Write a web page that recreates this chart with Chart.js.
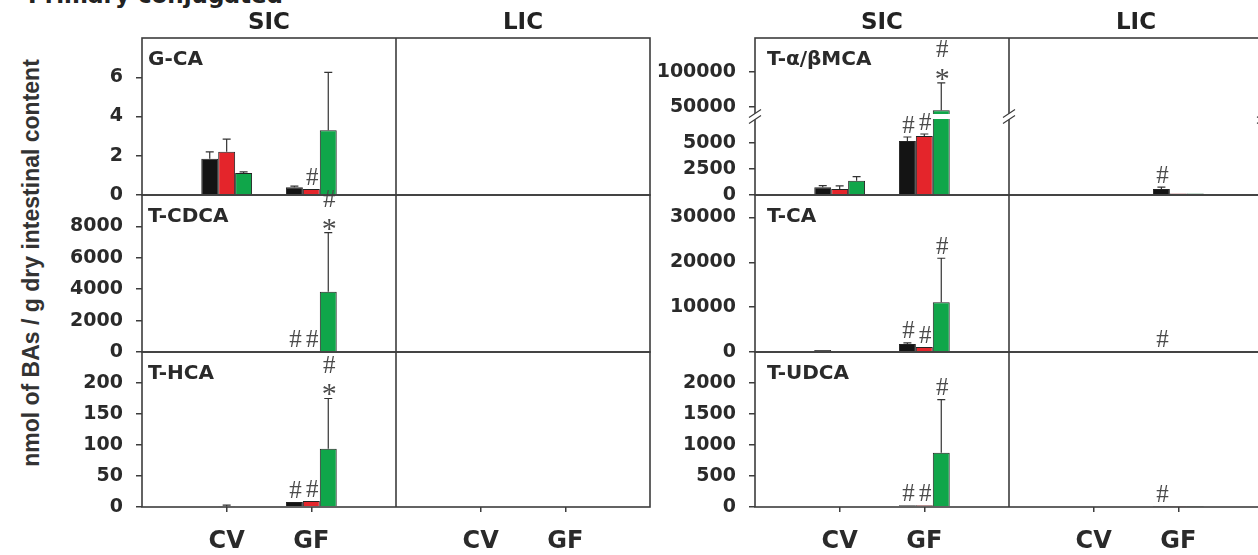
<!DOCTYPE html>
<html>
<head>
<meta charset="utf-8">
<script src="https://cdn.jsdelivr.net/npm/chart.js@4.4.1/dist/chart.umd.min.js"></script>
<style>
  html, body { margin: 0; padding: 0; background: #fff; }
  body { width: 1258px; height: 555px; position: relative; overflow: hidden; }
  #title { position: absolute; left: 28px; top: -16px; font: bold 23px "DejaVu Sans", sans-serif; line-height: 23px; color: #222; white-space: nowrap; }
  #ytitle { position: absolute; left: 31px; top: 263px; transform: translate(-50%, -50%) rotate(-90deg); font: bold 23px "Liberation Sans", Arial, sans-serif; color: #333; white-space: nowrap; }
</style>
</head>
<body>
<div id="title">Primary conjugated</div>
<div id="ytitle">nmol of BAs / g dry intestinal content</div>
<script>
// ---------------- DONNÉES ---------------- //
// chaque tableau : SIC-CV, SIC-GF, LIC-CV, LIC-GF ; lignes = noir, rouge, vert
const sites = ['SIC', 'LIC'];
const groups = ['CV', 'GF'];
const seriesNames = ['noir', 'rouge', 'vert'];

const gcaMeans = [[1.85, 0.4, 0, 0], [2.2, 0.3, 0, 0], [1.12, 3.3, 0, 0]];
const gcaSd    = [[0.35, 0.05, 0, 0], [0.65, 0, 0, 0], [0.06, 2.95, 0, 0]];
const gcaMarks = [['', '', '', ''], ['', '#', '', ''], ['', '', '', '']];
const gcaTicks = [0, 2, 4, 6];

const tcdcaMeans = [[0, 60, 0, 0], [0, 60, 0, 0], [0, 3840, 0, 0]];
const tcdcaSd    = [[0, 0, 0, 0], [0, 0, 0, 0], [0, 3760, 0, 0]];
const tcdcaMarks = [['', '#', '', ''], ['', '#', '', ''], ['', '#*', '', '']];
const tcdcaTicks = [0, 2000, 4000, 6000, 8000];

const thcaMeans = [[0, 8, 0, 0], [1, 9.5, 0, 0], [0, 94, 0, 0]];
const thcaSd    = [[0, 0, 0, 0], [2, 0, 0, 0], [0, 81, 0, 0]];
const thcaMarks = [['', '#', '', ''], ['', '#', '', ''], ['', '#*', '', '']];
const thcaTicks = [0, 50, 100, 150, 200];

const tmcaMeans = [[735, 5160, 0, 570], [573, 5640, 0, 150], [1366, 45500, 0, 150]];
const tmcaSd    = [[155, 380, 0, 190], [290, 190, 0, 0], [385, 38900, 0, 0]];
const tmcaMarks = [['', '#', '', '#'], ['', '#', '', ''], ['', '#*', '', '']];
const tmcaLowTicks  = [0, 2500, 5000];
const tmcaHighTicks = [50000, 100000];

const tcaMeans = [[450, 1780, 0, 120], [150, 1100, 0, 40], [100, 11100, 0, 40]];
const tcaSd    = [[0, 250, 0, 0], [0, 0, 0, 0], [0, 9800, 0, 0]];
const tcaMarks = [['', '#', '', '#'], ['', '#', '', ''], ['', '#', '', '']];
const tcaTicks = [0, 10000, 20000, 30000];

const tudcaMeans = [[0, 30, 0, 5], [0, 30, 0, 5], [0, 873, 0, 5]];
const tudcaSd    = [[0, 0, 0, 0], [0, 0, 0, 0], [0, 860, 0, 0]];
const tudcaMarks = [['', '#', '', '#'], ['', '#', '', ''], ['', '#', '', '']];
const tudcaTicks = [0, 500, 1000, 1500, 2000];

// ---------------- STYLE ---------------- //
const barColors = ['#141414', '#e4252b', '#10a64a'];
const frameColor = '#3d3d3d';
const textColor = '#2a2a2a';
const sansBold = '"DejaVu Sans", sans-serif';

// étiquettes de l'axe x : bords vides, séparateur au milieu
const xLabels = ['', groups[0], groups[1], '', groups[0], groups[1], ''];
const slots = arr => [null, arr[0], arr[1], null, arr[2], arr[3], null];

const blocks = {
    left:  { x: 40,  width: 620, axisWidth: 102, padRight: 10, labelDx: 6 },
    right: { x: 650, width: 620, axisWidth: 105, padRight: 7,  labelDx: 12 }
};
const rows = [{ top: 38, bottom: 195 }, { top: 195, bottom: 352 }, { top: 352, bottom: 507 }];

const panels = [
    { name: 'G-CA', block: 'left', row: 0, means: gcaMeans, sd: gcaSd, marks: gcaMarks, ticks: gcaTicks, max: 8 },
    { name: 'T-CDCA', block: 'left', row: 1, means: tcdcaMeans, sd: tcdcaSd, marks: tcdcaMarks, ticks: tcdcaTicks, max: 10000 },
    { name: 'T-HCA', block: 'left', row: 2, means: thcaMeans, sd: thcaSd, marks: thcaMarks, ticks: thcaTicks, max: 250 },
    { name: 'T-\u03b1/\u03b2MCA', block: 'right', row: 0, means: tmcaMeans, sd: tmcaSd, marks: tmcaMarks,
      broken: { lowMax: 7500, highMin: 36500, highMax: 148500, lowTicks: tmcaLowTicks, highTicks: tmcaHighTicks } },
    { name: 'T-CA', block: 'right', row: 1, means: tcaMeans, sd: tcaSd, marks: tcaMarks, ticks: tcaTicks, max: 35000 },
    { name: 'T-UDCA', block: 'right', row: 2, means: tudcaMeans, sd: tudcaSd, marks: tudcaMarks, ticks: tudcaTicks, max: 2500 }
];

// ---------------- PLUGIN : cadre, barres d'erreur, #/* ---------------- //
const decor = {
    id: 'decor',
    afterDatasetsDraw(chart, args, o) {
        const ctx = chart.ctx, a = chart.chartArea;
        ctx.save();
        // coupure de l'axe
        if (chart.scales.yLow) {
            const yb = chart.scales.yLow.top;
            ctx.fillStyle = '#fff';
            ctx.fillRect(a.left + 1, yb - 2.5, a.right - a.left - 2, 5);
        }
        chart.data.datasets.forEach((ds, di) => {
            const meta = chart.getDatasetMeta(di);
            const ys = chart.scales[meta.yAxisID];
            meta.data.forEach((bar, i) => {
                const v = ds.data[i];
                if (v == null) return;
                const mean = Array.isArray(v) ? v[1] : v;
                const e = ds.errors[i] || 0;
                let top = bar.y;
                if (e > 0) {
                    const yE = ys.getPixelForValue(mean + e);
                    ctx.strokeStyle = '#333';
                    ctx.lineWidth = 1.2;
                    ctx.beginPath();
                    ctx.moveTo(bar.x, bar.y);
                    ctx.lineTo(bar.x, yE);
                    ctx.moveTo(bar.x - 4, yE);
                    ctx.lineTo(bar.x + 4, yE);
                    ctx.stroke();
                    top = yE;
                }
                const m = ds.marks[i];
                if (m) {
                    ctx.fillStyle = '#4a4a4a';
                    ctx.textAlign = 'center';
                    ctx.textBaseline = 'middle';
                    const chars = m.split('');
                    for (let j = 0; j < chars.length; j++) {
                        const c = chars[chars.length - 1 - j];
                        if (c === '*') {
                            ctx.font = '30px "Liberation Serif", serif';
                            ctx.fillText(c, bar.x + 1, top - 10 - j * 21 + 7);
                        } else {
                            ctx.font = '25px "Liberation Serif", serif';
                            ctx.fillText(c, bar.x + 1, top - 11 - j * 21);
                        }
                    }
                }
            });
        });
        ctx.restore();
    },
    afterDraw(chart, args, o) {
        const ctx = chart.ctx, a = chart.chartArea;
        const mid = chart.scales.x.getPixelForValue(3);
        ctx.save();
        ctx.strokeStyle = frameColor;
        ctx.lineWidth = 1.6;
        ctx.strokeRect(a.left, a.top, a.right - a.left, a.bottom - a.top);
        ctx.beginPath();
        ctx.moveTo(mid, a.top);
        ctx.lineTo(mid, a.bottom);
        ctx.stroke();

        // marques de coupure "//"
        if (chart.scales.yLow) {
            const yb = chart.scales.yLow.top;
            [a.left, mid, a.right].forEach(x => {
                ctx.fillStyle = '#fff';
                ctx.beginPath();
                ctx.moveTo(x - 6, yb + 1);
                ctx.lineTo(x + 6, yb - 7);
                ctx.lineTo(x + 6, yb - 1);
                ctx.lineTo(x - 6, yb + 7);
                ctx.closePath();
                ctx.fill();
                ctx.strokeStyle = frameColor;
                ctx.lineWidth = 1.2;
                ctx.beginPath();
                ctx.moveTo(x - 6, yb + 1); ctx.lineTo(x + 6, yb - 7);
                ctx.moveTo(x - 6, yb + 7); ctx.lineTo(x + 6, yb - 1);
                ctx.stroke();
            });
        }

        ctx.fillStyle = textColor;
        ctx.textBaseline = 'middle';
        ctx.textAlign = 'left';
        ctx.font = 'bold 20px ' + sansBold;
        ctx.fillText(o.label, a.left + o.labelDx, a.top + 22);

        if (o.headers) {
            ctx.textAlign = 'center';
            ctx.font = 'bold 23px ' + sansBold;
            ctx.fillStyle = '#222';
            ctx.fillText(sites[0], (a.left + mid) / 2, a.top - 15);
            ctx.fillText(sites[1], (mid + a.right) / 2, a.top - 15);
        }
        ctx.restore();
    }
};

function yAxis(min, max, tickValues, width, extra) {
    return Object.assign({
        type: 'linear',
        position: 'left',
        min: min,
        max: max,
        afterBuildTicks: s => { s.ticks = tickValues.map(v => ({ value: v })); },
        afterFit: s => { s.width = width; s.paddingTop = 0; s.paddingBottom = 0; },
        grid: { display: true, drawOnChartArea: false, drawTicks: true, tickLength: 6, color: frameColor, lineWidth: 1.5 },
        border: { display: false },
        ticks: { autoSkip: false, padding: 13, color: textColor, font: { family: sansBold, size: 19, weight: 'bold' }, callback: v => String(v) }
    }, extra || {});
}

function makeChart(p) {
    const b = blocks[p.block], r = rows[p.row];
    const last = p.row === 2;
    const padTop = p.row === 0 ? 38 : 12;
    const padBottom = last ? 0 : 12;
    const xHeight = last ? 48 : 0;
    const h = padTop + (r.bottom - r.top) + padBottom + xHeight;

    const canvas = document.createElement('canvas');
    canvas.width = b.width;
    canvas.height = h;
    canvas.style.cssText = `position:absolute;left:${b.x}px;top:${r.top - padTop}px;width:${b.width}px;height:${h}px;`;
    document.body.appendChild(canvas);

    const datasets = [];
    const scales = {
        x: {
            type: 'category',
            offset: false,
            display: last,
            grid: {
                offset: false, drawOnChartArea: false, drawTicks: true, tickLength: 5, lineWidth: 1.5,
                color: c => xLabels[c.index] ? frameColor : 'rgba(0,0,0,0)'
            },
            border: { display: false },
            ticks: { autoSkip: false, maxRotation: 0, padding: 15, color: textColor, font: { family: sansBold, size: 24, weight: 'bold' } },
            afterFit: s => { s.height = xHeight; s.paddingLeft = 0; s.paddingRight = 0; }
        }
    };

    if (p.broken) {
        const br = p.broken;
        scales.yLow = yAxis(0, br.lowMax, br.lowTicks, b.axisWidth, { stack: 'brk', stackWeight: 1 });
        scales.yHigh = yAxis(br.highMin, br.highMax, br.highTicks, b.axisWidth, { stack: 'brk', stackWeight: 1 });
        p.means.forEach((m, k) => {
            const vals = slots(m), errs = slots(p.sd[k]), marks = slots(p.marks[k]);
            datasets.push({
                label: seriesNames[k], yAxisID: 'yLow', stack: 's' + k,
                data: vals.map(v => v == null ? null : [0, Math.min(v, br.lowMax)]),
                errors: vals.map((v, i) => v != null && v <= br.lowMax ? errs[i] : 0),
                marks: vals.map((v, i) => v != null && v <= br.lowMax ? marks[i] : ''),
                backgroundColor: barColors[k]
            });
            datasets.push({
                label: seriesNames[k], yAxisID: 'yHigh', stack: 's' + k,
                data: vals.map(v => v != null && v > br.highMin ? [br.highMin, v] : null),
                errors: vals.map((v, i) => v != null && v > br.highMin ? errs[i] : 0),
                marks: vals.map((v, i) => v != null && v > br.highMin ? marks[i] : ''),
                backgroundColor: barColors[k]
            });
        });
    } else {
        scales.y = yAxis(0, p.max, p.ticks, b.axisWidth);
        p.means.forEach((m, k) => {
            datasets.push({
                label: seriesNames[k], yAxisID: 'y',
                data: slots(m), errors: slots(p.sd[k]), marks: slots(p.marks[k]),
                backgroundColor: barColors[k]
            });
        });
    }
    datasets.forEach(ds => {
        ds.borderColor = '#222';
        ds.borderWidth = 1;
        ds.categoryPercentage = 0.6;
        ds.barPercentage = 1.0;
    });

    new Chart(canvas.getContext('2d'), {
        type: 'bar',
        data: { labels: xLabels, datasets: datasets },
        options: {
            responsive: false,
            animation: false,
            devicePixelRatio: 1,
            layout: { padding: { top: padTop, bottom: padBottom, left: 0, right: b.padRight } },
            plugins: {
                legend: { display: false },
                tooltip: { enabled: false },
                decor: { label: p.name, labelDx: b.labelDx, headers: p.row === 0 }
            },
            scales: scales
        },
        plugins: [decor]
    });
}

panels.forEach(makeChart);
</script>
</body>
</html>
